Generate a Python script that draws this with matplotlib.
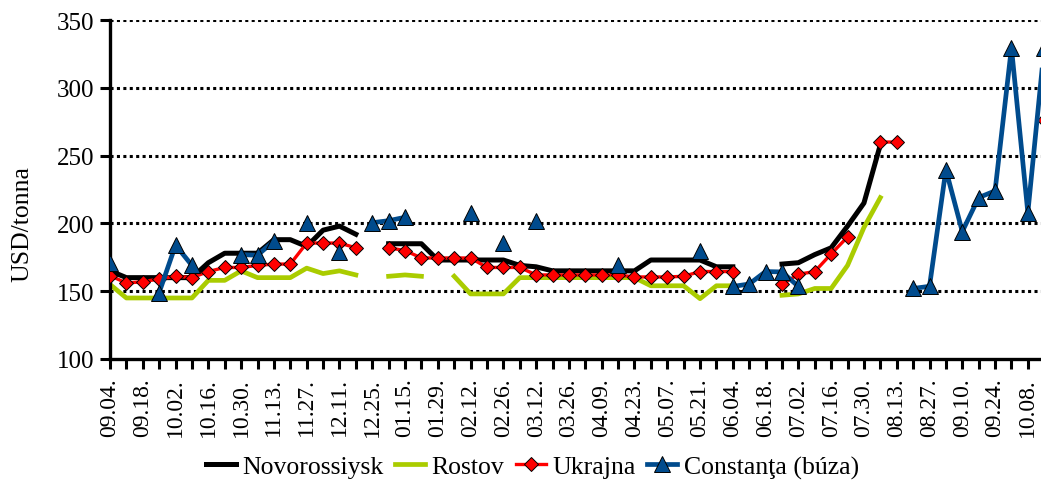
import numpy as np
import matplotlib
matplotlib.use("Agg")
import matplotlib.pyplot as plt

nan = np.nan

# heti dátumok (minden második felirattal)
dates = ["09.04.", "09.11.", "09.18.", "09.25.", "10.02.", "10.09.", "10.16.", "10.23.",
         "10.30.", "11.06.", "11.13.", "11.20.", "11.27.", "12.04.", "12.11.", "12.18.",
         "12.25.", "01.08.", "01.15.", "01.22.", "01.29.", "02.05.", "02.12.", "02.19.",
         "02.26.", "03.05.", "03.12.", "03.19.", "03.26.", "04.02.", "04.09.", "04.16.",
         "04.23.", "04.30.", "05.07.", "05.14.", "05.21.", "05.28.", "06.04.", "06.11.",
         "06.18.", "06.25.", "07.02.", "07.09.", "07.16.", "07.23.", "07.30.", "08.06.",
         "08.13.", "08.20.", "08.27.", "09.03.", "09.10.", "09.17.", "09.24.", "10.01.",
         "10.08.", "10.15."]

novorossiysk = [165, 160, 160, 160, 160, 160, 171, 178, 178, 178, 188, 188, 183, 195, 198, 192,
                nan, 185, 185, 185, 173, 173, 173, 173, 173, 169, 168, 165, 165, 165, 165, 165,
                165, 173, 173, 173, 173, 168, 168, nan, nan, 170, 171, 177, 182, 198, 215, 258,
                nan, nan, nan, nan, nan, nan, nan, nan, nan, nan]

rostov = [155, 145, 145, 145, 145, 145, 158, 158, 165, 160, 160, 160, 167, 163, 165, 162,
          nan, 161, 162, 161, nan, 161, 148, 148, 148, 160, 160, 160, 160, 160, 160, 160,
          160, 154, 154, 154, 144.5, 154, 154, nan, nan, 147, 148, 152, 152, 169, 197, 219,
          nan, nan, nan, nan, nan, nan, nan, nan, nan, nan]

ukrajna = [161.5, 156, 157, 159, 161, 160, 164.5, 167.5, 167.5, 169, 170, 170, 185.5, 185.5, 185.5, 182,
           nan, 182, 180, 174.5, 174.5, 174.5, 174.5, 167.5, 167.5, 167.5, 162, 162, 162, 162, 162, 162,
           160.5, 160.5, 160.5, 161, 164.5, 164.5, 164.5, nan, nan, 155, 162.5, 164.5, 177.5, 190, nan, 260,
           260, nan, nan, nan, nan, nan, nan, nan, nan, 276]

constanta = [171, nan, nan, 149, 184, 169, nan, nan, 177, 176.5, 187, nan, 200.5, nan, 179, nan,
             200.5, 202, 204.5, nan, nan, nan, 207.5, nan, 185.5, nan, 202, nan, nan, nan, nan, 169.5,
             nan, nan, nan, nan, 179.5, nan, 153.5, 155.3, 164.5, 164.2, 153.5, nan, nan, nan, nan, nan,
             nan, 152, 153.6, 239.6, 194, 219, 224, 329.6, 208, 329.6]

plt.rcParams['font.family'] = ['Liberation Serif', 'DejaVu Serif']

W, H = 1041, 485
fig = plt.figure(figsize=(W / 100, H / 100), dpi=100)
# a jobb szél le van vágva, mint az eredeti képen
ax = fig.add_axes([110 / W, (H - 360) / H, (57 * 16.39) / W, 339 / H])

x = np.arange(len(dates))

for yv in [150, 200, 250, 300, 350]:
    ax.axhline(yv, color='black', lw=2.2, ls=(0, (1.0, 1.1)), zorder=1)

ax.plot(x, novorossiysk, color='black', lw=3.6, label='Novorossiysk', zorder=3)
ax.plot(x, rostov, color='#AACC00', lw=3.4, label='Rostov', zorder=2)
ax.plot(x, ukrajna, color='#FF0000', lw=2.4, marker='D', ms=7.2, mfc='#FF0000',
        mec='black', mew=0.7, label='Ukrajna', zorder=4)
ax.plot(x, constanta, color='#004B8D', lw=3.4, marker='^', ms=11, mfc='#004B8D',
        mec='black', mew=0.7, label='Constanţa (búza)', zorder=5)

ax.set_xlim(0, 57)
ax.set_ylim(100, 350)
ax.set_yticks(range(100, 351, 50))
ax.set_xticks(x)
ax.set_xticklabels([d if i % 2 == 0 else '' for i, d in enumerate(dates)],
                   rotation=90, fontsize=17)
ax.tick_params(axis='y', labelsize=18, length=7, width=2.2, direction='out', pad=4)
ax.tick_params(axis='x', length=7, width=2.2, direction='out', pad=6)
ax.set_ylabel('USD/tonna', fontsize=18.5)
ax.yaxis.set_label_coords(-0.082, 0.40)

for s in ['top', 'right']:
    ax.spines[s].set_visible(False)
for s in ['left', 'bottom']:
    ax.spines[s].set_linewidth(2.4)

fig.legend(loc='center', bbox_to_anchor=(0.5115, (H - 468) / H), ncol=4, frameon=False,
           fontsize=18.5, handlelength=1.17, handletextpad=0.25, columnspacing=0.45)

fig.savefig('out.png', dpi=100)
